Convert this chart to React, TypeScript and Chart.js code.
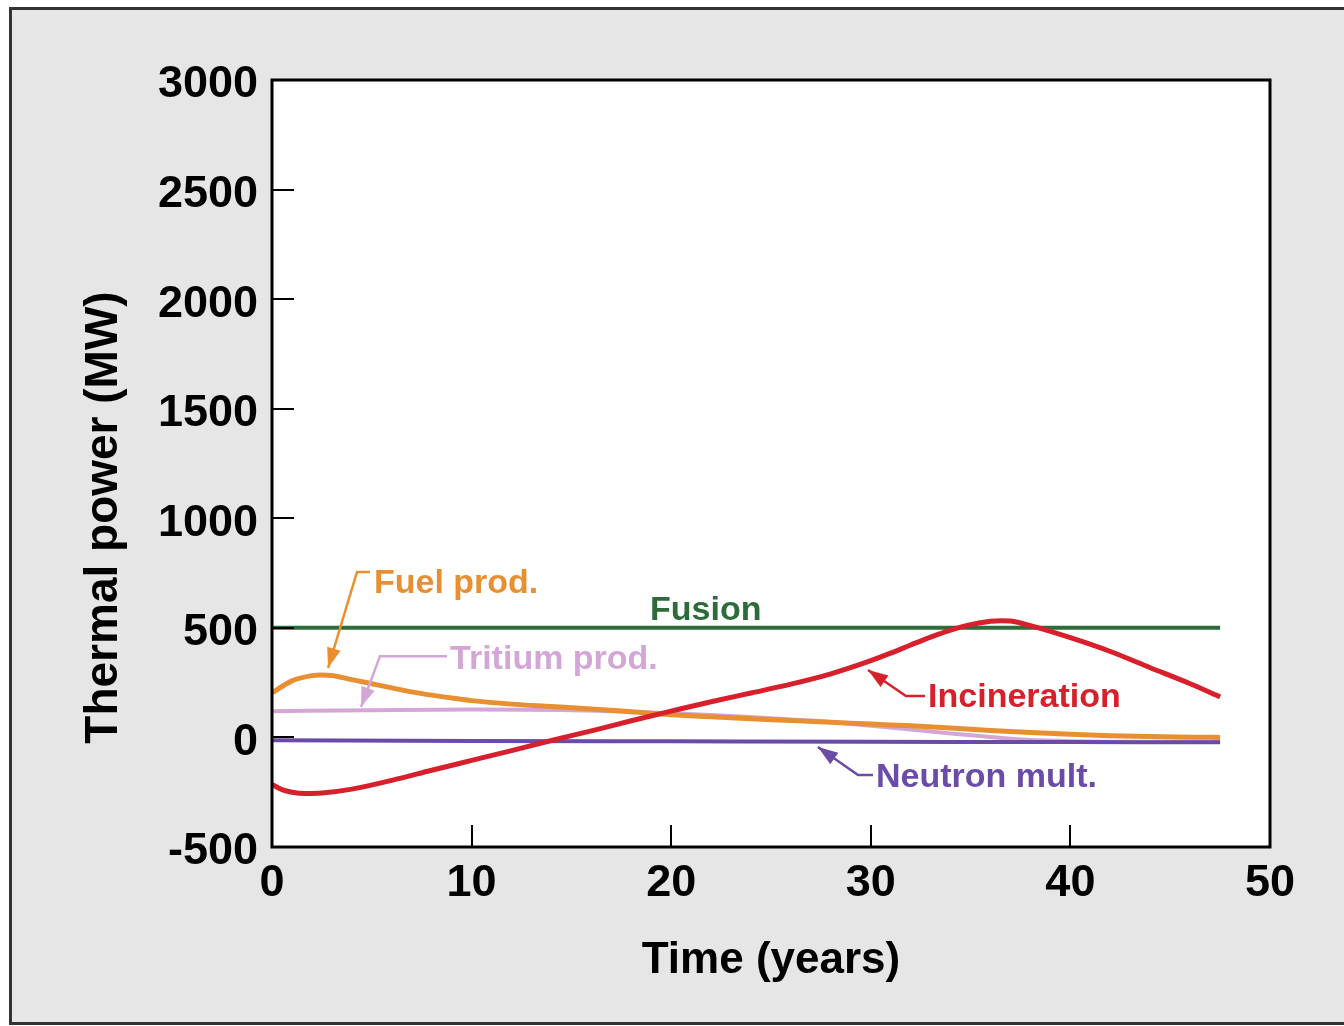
import React, { useEffect, useRef } from 'react';
import { Chart, registerables } from 'chart.js';

Chart.register(...registerables);

// ---------------- data ----------------
const xTickValues = [0, 10, 20, 30, 40, 50];
const yTickValues = [-500, 0, 500, 1000, 1500, 2000, 2500, 3000];

const fusionYears = [0, 47.5];
const fusionValues = [500, 500];

const fuelYears = [0, 1, 2, 2.5, 3, 4, 5, 6, 7, 8, 9, 10, 12, 14, 16, 18, 20, 22, 24, 26, 28, 30, 32, 34, 36, 38, 40, 42, 44, 46, 47.5];
const fuelValues = [203, 258, 282, 285, 283, 264, 245, 226, 208, 193, 180, 168, 152, 141, 130, 117, 104, 94, 85, 77, 69, 61, 53, 43, 32, 22, 14, 8, 4, 1, 0];

const tritiumYears = [0, 5, 10, 15, 18, 20, 22, 24, 26, 28, 30, 32, 34, 36, 37, 38, 40, 44, 47.5];
const tritiumValues = [120, 124, 127, 124, 117, 110, 102, 93, 82, 70, 53, 36, 18, 2, -6, -12, -17, -20, -20];

const neutronYears = [0, 10, 20, 30, 40, 47.5];
const neutronValues = [-13, -16, -18, -20, -21, -22];

const incinerationYears = [0, 0.5, 1, 1.7, 2.5, 4, 6, 8, 10, 12, 14, 16, 18, 20, 22, 24, 26, 28, 30, 31, 32, 33, 34, 35, 36, 36.5, 37, 38, 40, 42, 44, 46, 47.5];
const incinerationValues = [-215, -238, -250, -256, -254, -236, -196, -150, -105, -60, -14, 30, 76, 120, 163, 203, 243, 290, 350, 385, 422, 458, 490, 515, 530, 533, 531, 510, 455, 392, 318, 245, 185];

// ---------------- styles ----------------
const FUSION_COLOR = '#2d6b3a';
const FUEL_COLOR = '#e88f31';
const TRITIUM_COLOR = '#d4a6d6';
const NEUTRON_COLOR = '#6a4ba8';
const INCIN_COLOR = '#d7202b';
const FONT = '"Liberation Sans", Arial, Helvetica, sans-serif';

// annotation labels and arrows, in data coordinates (year, MW)
const notes = [
  { text: 'Fuel prod.', color: FUEL_COLOR, x: 5.11, y: 659, arrow: [[4.91, 755], [4.26, 755], [2.81, 317]] },
  { text: 'Fusion', color: FUSION_COLOR, x: 18.94, y: 536, arrow: null },
  { text: 'Tritium prod.', color: TRITIUM_COLOR, x: 8.92, y: 312, arrow: [[8.77, 371], [5.41, 371], [4.46, 139]] },
  { text: 'Incineration', color: INCIN_COLOR, x: 32.87, y: 139, arrow: [[32.72, 189], [31.76, 189], [29.86, 308]] },
  { text: 'Neutron mult.', color: NEUTRON_COLOR, x: 30.26, y: -226, arrow: [[30.11, -172], [29.36, -172], [27.35, -44]] },
];

const toPoints = (xs: number[], ys: number[]) => xs.map((x, i) => ({ x, y: ys[i] }));

const decorPlugin = {
  id: 'decor',
  beforeDraw(chart: any) {
    const { ctx, width, height, chartArea } = chart;
    ctx.save();
    ctx.fillStyle = '#ffffff';
    ctx.fillRect(0, 0, width, height);
    ctx.fillStyle = '#e6e6e6';
    ctx.fillRect(10, 8, width, 1016);
    ctx.strokeStyle = '#333333';
    ctx.lineWidth = 3;
    ctx.strokeRect(10.5, 8.5, width + 20, 1015);
    ctx.fillStyle = '#ffffff';
    ctx.fillRect(chartArea.left, chartArea.top, chartArea.right - chartArea.left, chartArea.bottom - chartArea.top);
    ctx.restore();
  },
  afterDatasetsDraw(chart: any) {
    const { ctx, chartArea, scales } = chart;
    const xs = scales.x;
    const ys = scales.y;
    ctx.save();
    // inward ticks
    ctx.strokeStyle = '#000';
    ctx.lineWidth = 2;
    ctx.beginPath();
    xTickValues.forEach((v) => {
      if (v === 0 || v === 50) return;
      const px = Math.round(xs.getPixelForValue(v));
      ctx.moveTo(px, chartArea.bottom);
      ctx.lineTo(px, chartArea.bottom - 22);
    });
    yTickValues.forEach((v) => {
      if (v === -500 || v === 3000) return;
      const py = Math.round(ys.getPixelForValue(v));
      ctx.moveTo(chartArea.left, py);
      ctx.lineTo(chartArea.left + 22, py);
    });
    ctx.stroke();
    // frame
    ctx.lineWidth = 3;
    ctx.strokeRect(chartArea.left, chartArea.top, chartArea.right - chartArea.left, chartArea.bottom - chartArea.top);

    // annotations
    ctx.font = `bold 34px ${FONT}`;
    ctx.textAlign = 'left';
    ctx.textBaseline = 'alphabetic';
    notes.forEach((n) => {
      ctx.fillStyle = n.color;
      ctx.fillText(n.text, xs.getPixelForValue(n.x), ys.getPixelForValue(n.y));
      if (n.arrow) {
        const pts = n.arrow.map(([a, b]) => [xs.getPixelForValue(a), ys.getPixelForValue(b)]);
        ctx.strokeStyle = n.color;
        ctx.lineWidth = 2.5;
        ctx.beginPath();
        pts.forEach(([px, py], i) => (i === 0 ? ctx.moveTo(px, py) : ctx.lineTo(px, py)));
        ctx.stroke();
        const [ex, ey] = pts[pts.length - 1];
        const [sx, sy] = pts[pts.length - 2];
        const ang = Math.atan2(ey - sy, ex - sx);
        const len = 20;
        const hw = 7;
        const bx = ex - len * Math.cos(ang);
        const by = ey - len * Math.sin(ang);
        ctx.beginPath();
        ctx.fillStyle = n.color;
        ctx.moveTo(ex, ey);
        ctx.lineTo(bx + hw * Math.sin(ang), by - hw * Math.cos(ang));
        ctx.lineTo(bx - hw * Math.sin(ang), by + hw * Math.cos(ang));
        ctx.closePath();
        ctx.fill();
      }
    });

    // y axis title
    ctx.fillStyle = '#000';
    ctx.font = `bold 46px ${FONT}`;
    ctx.textAlign = 'center';
    ctx.textBaseline = 'middle';
    ctx.translate(chartArea.left - 168, (chartArea.top + chartArea.bottom) / 2 + 54);
    ctx.rotate(-Math.PI / 2);
    ctx.fillText('Thermal power (MW)', 0, 0);
    ctx.restore();
  },
};

export default function App() {
  const ref = useRef<HTMLCanvasElement | null>(null);

  useEffect(() => {
    if (!ref.current) return;
    const chart = new Chart(ref.current, {
      type: 'line',
      data: {
        datasets: [
          {
            label: 'Incineration',
            data: toPoints(incinerationYears, incinerationValues),
            borderColor: INCIN_COLOR,
            borderWidth: 5,
            pointRadius: 0,
            cubicInterpolationMode: 'monotone',
          },
          {
            label: 'Fusion',
            data: toPoints(fusionYears, fusionValues),
            borderColor: FUSION_COLOR,
            borderWidth: 4,
            pointRadius: 0,
          },
          {
            label: 'Fuel prod.',
            data: toPoints(fuelYears, fuelValues),
            borderColor: FUEL_COLOR,
            borderWidth: 5,
            pointRadius: 0,
            cubicInterpolationMode: 'monotone',
          },
          {
            label: 'Neutron mult.',
            data: toPoints(neutronYears, neutronValues),
            borderColor: NEUTRON_COLOR,
            borderWidth: 4,
            pointRadius: 0,
            cubicInterpolationMode: 'monotone',
          },
          {
            label: 'Tritium prod.',
            data: toPoints(tritiumYears, tritiumValues),
            borderColor: TRITIUM_COLOR,
            borderWidth: 4,
            pointRadius: 0,
            cubicInterpolationMode: 'monotone',
          },
        ],
      },
      options: {
        animation: false,
        responsive: false,
        devicePixelRatio: 1,
        layout: { padding: { top: 80, right: 74, left: 0, bottom: 0 } },
        plugins: { legend: { display: false }, tooltip: { enabled: false } },
        scales: {
          x: {
            type: 'linear',
            min: 0,
            max: 50,
            afterBuildTicks: (s: any) => {
              s.ticks = xTickValues.map((v) => ({ value: v }));
            },
            afterFit: (s: any) => {
              s.height = 179;
            },
            grid: { display: false, drawTicks: false },
            border: { display: false },
            ticks: {
              color: '#000',
              padding: 10,
              maxRotation: 0,
              font: { family: FONT, size: 45, weight: 'bold' },
              callback: (v: any) => String(v),
            },
            title: {
              display: true,
              text: 'Time (years)',
              color: '#000',
              font: { family: FONT, size: 44, weight: 'bold' },
              padding: { top: 0, bottom: 39 },
            },
          },
          y: {
            type: 'linear',
            min: -500,
            max: 3000,
            afterBuildTicks: (s: any) => {
              s.ticks = yTickValues.map((v) => ({ value: v }));
            },
            afterFit: (s: any) => {
              s.width = 272;
            },
            grid: { display: false, drawTicks: false },
            border: { display: false },
            ticks: {
              color: '#000',
              padding: 14,
              labelOffset: 5,
              font: { family: FONT, size: 45, weight: 'bold' },
              callback: (v: any) => String(v),
            },
          },
        },
      },
      plugins: [decorPlugin],
    } as any);
    return () => chart.destroy();
  }, []);

  return (
    <div style={{ position: 'absolute', left: 0, top: 0, width: 1344, height: 1026, background: '#fff' }}>
      <canvas ref={ref} width={1344} height={1026} style={{ display: 'block', width: 1344, height: 1026 }} />
    </div>
  );
}
